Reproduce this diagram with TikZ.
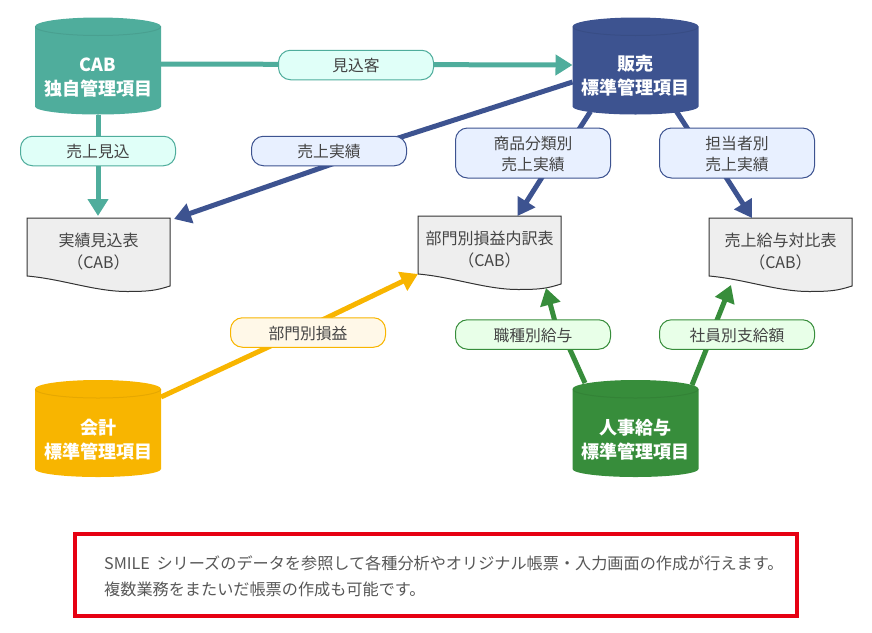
\documentclass[tikz,border=0pt]{standalone}
\usepackage{fontspec}
\setmainfont{Noto Sans CJK JP}
\usetikzlibrary{arrows.meta,calc}
\definecolor{cteal}{HTML}{4FAD9C}
\definecolor{cblue}{HTML}{3D5390}
\definecolor{cyell}{HTML}{F8B500}
\definecolor{cgreen}{HTML}{378D3B}
\definecolor{fteal}{HTML}{E0FFF8}
\definecolor{fblue}{HTML}{E8F0FF}
\definecolor{fyell}{HTML}{FFF8E8}
\definecolor{fgreen}{HTML}{E8FFE8}
\definecolor{txt}{HTML}{444444}
\definecolor{redb}{HTML}{E60012}
\newcommand{\dn}[1]{\raisebox{-1pt}[\height][\depth]{#1}}
\tikzset{
  anchorbox/.style={minimum width=126pt,minimum height=97pt,inner sep=0pt,outer sep=0pt},
  dbtext/.style={text=white,font=\fontsize{18pt}{24pt}\selectfont\bfseries,align=center,inner sep=0pt},
  docbox/.style={minimum width=143pt,minimum height=67pt,inner sep=0pt,outer sep=0pt,anchor=north west,
    align=center,text=txt,font=\fontsize{16pt}{21.5pt}\selectfont},
  tag/.style={draw=#1,line width=1pt,rounded corners=12pt,minimum width=155pt,minimum height=29.5pt,
    inner sep=0pt,align=center,text=txt,font=\fontsize{15.8pt}{21.5pt}\selectfont},
  conn/.style={draw=#1,line width=5pt},
  arrowconn/.style={draw=#1,line width=5pt,-{Triangle[width=20pt,length=17pt,fill=#1]}},
}
% cylinder: name, centre x, centre y, colour
\newcommand{\dbshape}[4]{%
  \node[anchorbox] (#1) at (#2,#3) {};
  \fill[#4] ($(#1.north west)+(0,-9pt)$) arc[start angle=180,end angle=0,x radius=63pt,y radius=9pt]
    -- ($(#1.south east)+(0,8pt)$) arc[start angle=0,end angle=-180,x radius=63pt,y radius=8pt] -- cycle;
  \draw[black,opacity=.07,line width=1pt] ($(#1.north west)+(0,-9pt)$) arc[start angle=180,end angle=360,x radius=63pt,y radius=9pt];
}
% document: name, left, top, text
\newcommand{\docshape}[4]{%
  \coordinate (#1nw) at (#2,#3);
  \draw[fill=black!6.5,draw=black!80,line width=1pt]
    (#1nw) -- ++(143pt,0pt) -- ++(0pt,-68pt)
    .. controls +(-14pt,-4.5pt) and +(22pt,0pt) .. ($(#1nw)+(100pt,-73.5pt)$)
    .. controls +(-32pt,0pt) and +(35pt,-3pt) .. ($(#1nw)+(0pt,-58pt)$) -- cycle;
  \node[docbox] (#1) at (#2,#3) {#4};
}
\begin{document}
\begin{tikzpicture}[x=1pt,y=-1pt]
\useasboundingbox (0,0) rectangle (872,632);
\dbshape{cab}{98}{66}{cteal}
\dbshape{sales}{635.5}{66}{cblue}
\dbshape{acct}{98}{428.5}{cyell}
\dbshape{hr}{635.5}{428.5}{cgreen}
\docshape{d1}{27}{218}{実績見込表\\（CAB）}
\docshape{d2}{418}{216}{部門別損益内訳表\\（CAB）}
\docshape{d3}{709}{218}{売上給与対比表\\（CAB）}
\node[dbtext] (cabt) at (98,77.5) {CAB\\独自管理項目};
\node[dbtext] (salest) at (635.5,76) {販売\\標準管理項目};
\node[dbtext] (acctt) at (98,439.5) {会計\\標準管理項目};
\node[dbtext] (hrt) at (635.5,439.5) {人事給与\\標準管理項目};
% label centres, so that the lines can pass behind the labels
\coordinate (l1c) at (356,65);
\coordinate (l2c) at (98,151);
\coordinate (l3c) at (329,151);
\coordinate (l4c) at (533,153);
\coordinate (l5c) at (737,153);
\coordinate (l6c) at (308,332.5);
\coordinate (l7c) at (533,334.5);
\coordinate (l8c) at (737,334.5);
% connectors
\draw[arrowconn=cteal] ([yshift=2pt]cab.east) -- ([yshift=1pt]sales.west);
\draw[arrowconn=cteal] (cab.south) -- ([yshift=2pt]d1.north -| cab.south);
\draw[conn=cblue] ([yshift=-16pt]sales.west) -- ($(l3c)+(60,-10)$);
\draw[arrowconn=cblue] ($(l3c)+(6,12)$) -- ([xshift=4pt,yshift=-1pt]d1.north east);
\draw[conn=cblue] ([xshift=-45pt,yshift=3pt]sales.south) -- ($(l4c)+(43,-19)$);
\draw[arrowconn=cblue] ($(l4c)+(13,18)$) -- ([xshift=28pt]d2.north);
\draw[conn=cblue] ([xshift=41pt,yshift=3pt]sales.south) -- ($(l5c)+(-46,-19)$);
\draw[arrowconn=cblue] ($(l5c)+(-15,18)$) -- ([xshift=-28.5pt]d3.north);
\draw[conn=cyell] ([yshift=31.5pt]acct.east) -- ($(l6c)+(-31,10.5)$);
\draw[arrowconn=cyell] ($(l6c)+(9,-10)$) -- ([yshift=-58pt]d2.north west);
\draw[conn=cgreen] ([xshift=-50.5pt,yshift=-3pt]hr.north) -- ($(l7c)+(34.5,9.5)$);
\draw[arrowconn=cgreen] ($(l7c)+(23,-9)$) -- ([xshift=56.5pt,yshift=-72pt]d2.north);
\draw[conn=cgreen] ([xshift=56.5pt,yshift=-5pt]hr.north) -- ($(l8c)+(-29,10.5)$);
\draw[arrowconn=cgreen] ($(l8c)+(-22,-9.5)$) -- ([xshift=-49.5pt,yshift=-67pt]d3.north);
% labels
\node[tag=cteal,fill=fteal] (l1) at (l1c) {\dn{見込客}};
\node[tag=cteal,fill=fteal] (l2) at (l2c) {\dn{売上見込}};
\node[tag=cblue,fill=fblue] (l3) at (l3c) {\dn{売上実績}};
\node[tag=cblue,fill=fblue,minimum height=50pt] (l4) at (l4c) {\dn{商品分類別}\\\dn{売上実績}};
\node[tag=cblue,fill=fblue,minimum height=50pt] (l5) at (l5c) {\dn{担当者別}\\\dn{売上実績}};
\node[tag=cyell,fill=fyell] (l6) at (l6c) {\dn{部門別損益}};
\node[tag=cgreen,fill=fgreen] (l7) at (l7c) {\dn{職種別給与}};
\node[tag=cgreen,fill=fgreen] (l8) at (l8c) {\dn{社員別支給額}};
% note
\node[draw=redb,line width=3.6pt,minimum width=722pt,minimum height=82pt,inner sep=0pt] (note) at (436,575) {};
\node[anchor=west,inner sep=0pt,align=left,text=txt!90,font=\fontsize{16.15pt}{26pt}\selectfont] (notet) at (104,576)
 {SMILE\hspace{3pt} シリーズのデータを参照して各種分析やオリジナル帳票・入力画面の作成が行えます。\\複数業務をまたいだ帳票の作成も可能です。};
\end{tikzpicture}
\end{document}
